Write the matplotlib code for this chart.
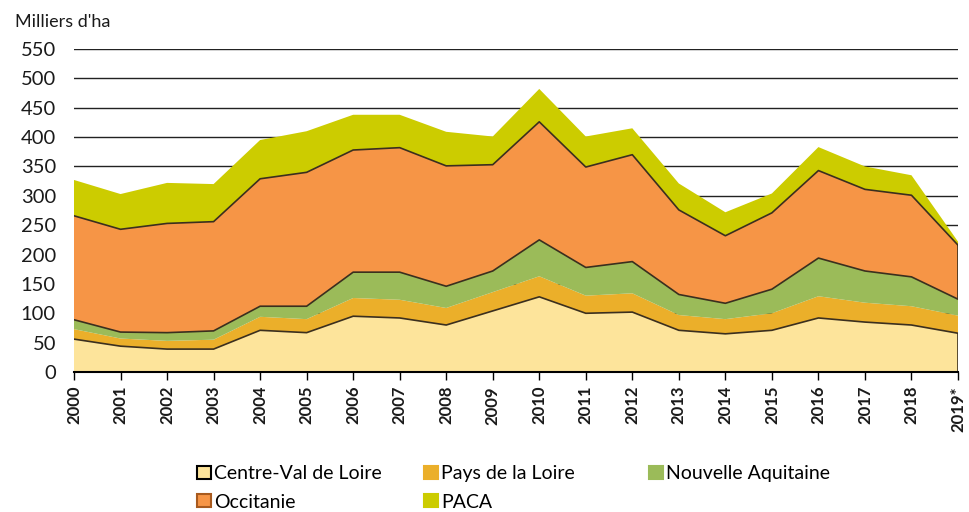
import matplotlib.pyplot as plt
import numpy as np

plt.rcParams['font.family'] = ['Lato', 'DejaVu Sans']

years = ["2000", "2001", "2002", "2003", "2004", "2005", "2006", "2007", "2008", "2009",
         "2010", "2011", "2012", "2013", "2014", "2015", "2016", "2017", "2018", "2019*"]

centre = [56, 44, 39, 39, 71, 67, 95, 92, 80, 104, 128, 100, 102, 71, 65, 71, 92, 85, 80, 66]
pays_loire = [17, 13, 14, 16, 23, 23, 31, 31, 29, 32, 35, 30, 32, 26, 25, 29, 37, 33, 32, 30]
nouvelle_aquitaine = [16, 11, 14, 15, 18, 22, 44, 47, 37, 36, 62, 48, 54, 35, 27, 41, 65, 54, 50, 28]
occitanie = [177, 175, 186, 186, 217, 228, 208, 212, 205, 181, 201, 171, 182, 144, 115, 130, 149, 139, 139, 92]
paca = [61, 60, 69, 64, 66, 70, 60, 56, 58, 48, 56, 52, 45, 45, 40, 33, 40, 39, 34, 6]

labels = ["Centre-Val de Loire", "Pays de la Loire", "Nouvelle Aquitaine", "Occitanie", "PACA"]
colors = ["#FDE49B", "#EBAF2A", "#9BBB59", "#F69546", "#CCCC00"]
edge = "#3b2f1e"

x = np.arange(len(years))
series = np.array([centre, pays_loire, nouvelle_aquitaine, occitanie, paca])
cum = np.cumsum(series, axis=0)

fig = plt.figure(figsize=(9.7, 5.12), dpi=100)
ax = fig.add_axes([74 / 970, 140 / 512, 884 / 970, 323 / 512])

for y in range(50, 551, 50):
    ax.axhline(y, color="#222222", linewidth=1.0, zorder=0)

ax.stackplot(x, series, colors=colors, linewidth=0, zorder=1)

# dark outlines of Centre-Val de Loire and Occitanie
ax.plot(x, cum[0], color=edge, linewidth=1.2, zorder=2)
ax.plot(x, cum[2], color=edge, linewidth=1.2, zorder=2)
ax.plot(x, cum[3], color=edge, linewidth=1.2, zorder=2)
ax.vlines(x[-1], 0, cum[0][-1], color=edge, linewidth=1.2, zorder=2)
ax.vlines(x[-1], cum[2][-1], cum[3][-1], color=edge, linewidth=1.2, zorder=2)

ax.set_xlim(x[0], x[-1])
ax.set_ylim(0, 550)
ax.set_yticks(range(0, 551, 50))
ax.set_xticks(x)
ax.set_xticklabels(years, rotation=90, fontsize=12, fontweight="bold", color="#1a1a1a")
ax.tick_params(axis="y", length=0, labelsize=14.5, pad=13, labelcolor="#1a1a1a")
ax.tick_params(axis="x", direction="out", length=6, width=1, color="black", pad=4)

for s in ["left", "right", "top"]:
    ax.spines[s].set_visible(False)
ax.spines["bottom"].set_color("black")
ax.spines["bottom"].set_linewidth(1.5)
ax.spines["bottom"].set_zorder(3)

fig.text(15 / 970, 1 - 22 / 512, "Milliers d'ha", fontsize=13, va="center", color="#1a1a1a")

# legend: three columns, filled row by row as in the original
handles = []
for i, (lab, col) in enumerate(zip(labels, colors)):
    ec = "black" if i == 0 else ("#a85a1e" if i == 3 else col)
    handles.append(plt.Rectangle((0, 0), 1, 1, facecolor=col, edgecolor=ec, linewidth=1.5))

columns = [[0, 3], [1, 4], [2]]
col_x = [197, 424, 649]
for idx, cx in zip(columns, col_x):
    leg = fig.legend([handles[i] for i in idx], [labels[i] for i in idx],
                     loc="upper left", bbox_to_anchor=(cx / 970, 1 - 465 / 512),
                     frameon=False, fontsize=14, handlelength=0.7, handleheight=0.65,
                     handletextpad=0.2, labelspacing=0.6, borderpad=0, borderaxespad=0)

fig.savefig("out.png", dpi=100)
